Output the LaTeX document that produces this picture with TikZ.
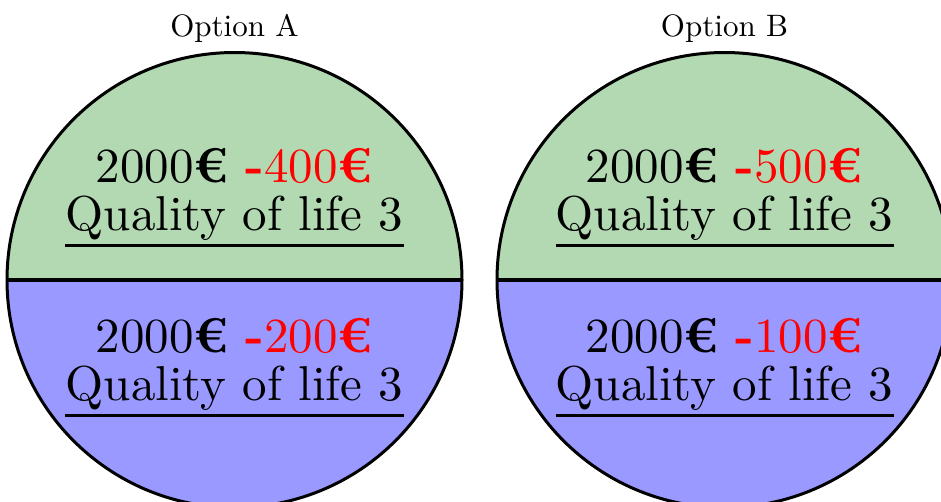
\documentclass[tikz,border=0pt]{standalone}
\usepackage{fontspec}
\setmainfont{lmroman10-regular.otf}[BoldFont=lmroman10-bold.otf]
\usetikzlibrary{calc}
\definecolor{topgreen}{RGB}{179,217,179}
\definecolor{botblue}{RGB}{153,153,255}
\newcommand{\eur}{\textbf{€}}
\begin{document}
\begin{tikzpicture}[x=1pt,y=-1pt,
  bigtext/.style={font=\fontsize{49}{48}\selectfont, inner sep=0pt, anchor=base},
  titletext/.style={font=\fontsize{31}{31}\selectfont, inner sep=0pt, anchor=base},
  rim/.style={line width=3pt},
  divider/.style={line width=4pt},
  uline/.style={line width=3pt}]
\useasboundingbox (0,0) rectangle (941,501);
\clip (0,0) rectangle (941,501);
\foreach \cx/\name/\a/\b/\lab in {234.5/A/400/200/Option A, 724.5/B/500/100/Option B} {
  \begin{scope}
    \clip (\cx,280) circle (227.5pt);
    \fill[topgreen] (\cx-230,45) rectangle (\cx+230,280);
    \fill[botblue] (\cx-230,280) rectangle (\cx+230,515);
  \end{scope}
  \draw[rim] (\cx,280) circle (227.5pt);
  \coordinate (l\name) at (\cx-227.5,280);
  \coordinate (r\name) at (\cx+227.5,280);
  \draw[divider] (l\name) -- (r\name);
  \node[titletext] (opt\name) at (\cx,36.7) {\lab};
  \node[bigtext] (ta\name) at (\cx,182.7) {2000\eur{} \textcolor{red}{\textbf{-}\a\eur}};
  \node[bigtext] (qa\name) at (\cx,230.7) {Quality of life 3};
  \draw[uline] ($(qa\name.base west)+(0,14.5)$) -- ($(qa\name.base east)+(0,14.5)$);
  \node[bigtext] (tb\name) at (\cx,352.7) {2000\eur{} \textcolor{red}{\textbf{-}\b\eur}};
  \node[bigtext] (qb\name) at (\cx,400.7) {Quality of life 3};
  \draw[uline] ($(qb\name.base west)+(0,14.5)$) -- ($(qb\name.base east)+(0,14.5)$);
}
\end{tikzpicture}
\end{document}
